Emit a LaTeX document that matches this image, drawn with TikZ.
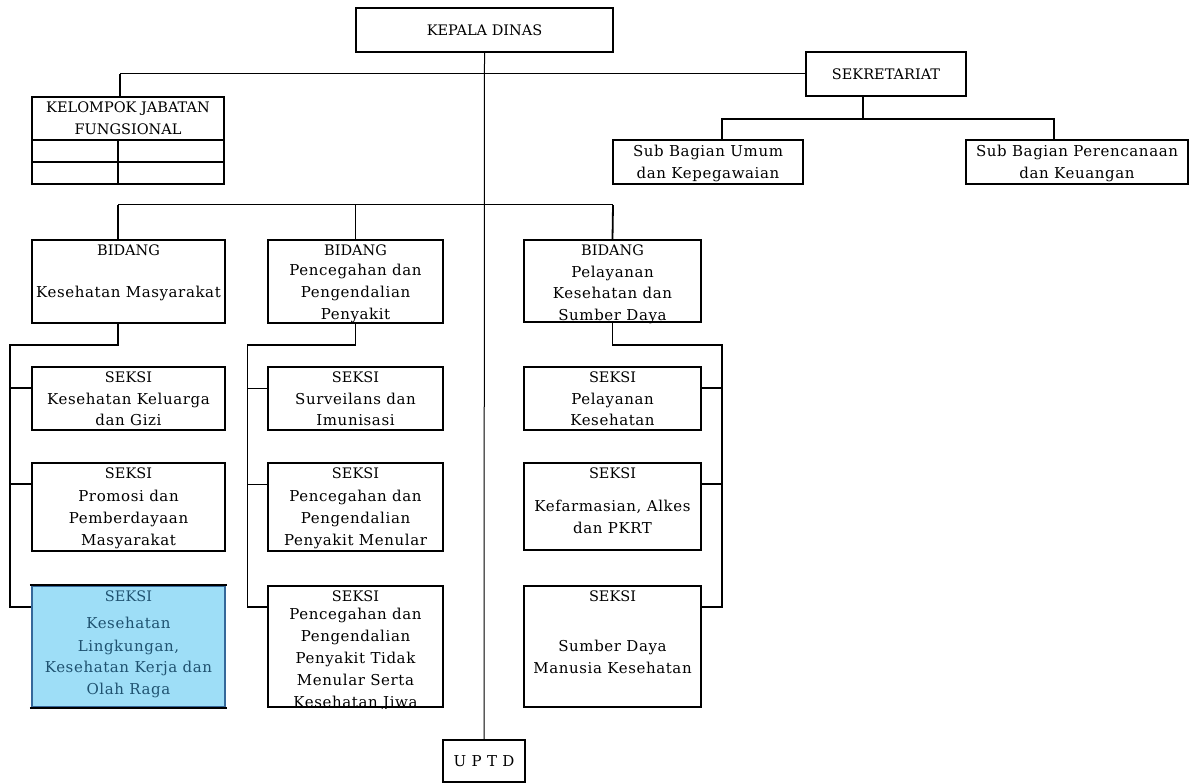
\documentclass[tikz,border=0pt]{standalone}
\usepackage{fontspec}
\setmainfont{DejaVu Serif}
\newfontfamily\lsfont[LetterSpace=4]{DejaVu Serif}
\newcommand\capsf{\fontsize{14.5}{21.5}\selectfont\rmfamily}
\newcommand\bodyf{\fontsize{15}{21.5}\selectfont\lsfont}
\definecolor{blfill}{HTML}{9EDEF7}
\definecolor{blborder}{HTML}{35689A}
\definecolor{bltext}{HTML}{1F5270}
\tikzset{
  box/.style={draw=black, line width=2pt, inner sep=0pt, fill=white},
  txt/.style={anchor=north, align=center, inner sep=0pt, font=\bodyf},
  conn/.style={line width=1.8pt},
  thinc/.style={line width=1pt},
}
% name, x1, y1, x2, y2, content
\newcommand\orgbox[7][]{%
  \node[box, minimum width={(#5-#3)*1pt}, minimum height={(#6-#4)*1pt}, #1] (#2) at ({(#3+#5)/2},{(#4+#6)/2}) {#7};}
\newcommand\boxtext[3][]{%
  \begin{scope}
    \clip (#2.south west) rectangle (#2.north east);
    \node[txt, #1] (#2-t) at ([yshift=-5.7pt]#2.north) {#3};
  \end{scope}}
\begin{document}
\begin{tikzpicture}[x=1pt, y=-1pt]
\useasboundingbox (0,0) rectangle (1190,783);

% boxes
\orgbox{kd}{356}{8}{613}{52}{\capsf KEPALA DINAS}
\orgbox{sek}{806}{52}{966}{96}{\capsf SEKRETARIAT}
\orgbox{kjf}{32}{97}{224}{184}{}
\orgbox{sbu}{613}{140}{803}{184}{}
\orgbox{sbp}{966}{140}{1188}{184}{}
\orgbox{kmb}{32}{240}{225}{323}{}
\orgbox{p2pb}{268}{240}{443}{323}{}
\orgbox{pelb}{524}{240}{701}{322}{}
\orgbox{km1}{32}{367}{225}{430}{}
\orgbox{km2}{32}{463}{225}{551}{}
\orgbox[fill=blfill, draw=blborder, line width=2.2pt]{km3}{32}{586}{225}{707}{}
\orgbox{pp1}{268}{367}{443}{430}{}
\orgbox{pp2}{268}{463}{443}{551}{}
\orgbox{pp3}{268}{586}{443}{707}{}
\orgbox{pl1}{524}{367}{701}{430}{}
\orgbox{pl2}{524}{463}{701}{550}{}
\orgbox{pl3}{524}{586}{701}{707}{}
\orgbox{uptd}{443}{740}{525}{782}{\bodyf U P T D}

% blue box black top and bottom edges
\draw[line width=2pt] ([xshift=-1pt]km3.north west) -- ([xshift=1pt]km3.north east);
\draw[line width=2pt] ([xshift=-1pt]km3.south west) -- ([xshift=1pt]km3.south east);

% KJF inner grid
\draw[line width=2pt] ([yshift=-44pt]kjf.north west) -- ([yshift=-44pt]kjf.north east);
\draw[line width=2pt] ([yshift=-66pt]kjf.north west) -- ([yshift=-66pt]kjf.north east);
\draw[line width=2pt] ([xshift=87pt,yshift=-44pt]kjf.north west) -- ([xshift=87pt]kjf.south west);

% texts
\boxtext{kjf}{{\capsf KELOMPOK JABATAN}\\{\capsf FUNGSIONAL}}
\boxtext{sbu}{Sub Bagian Umum\\[0.5pt]dan Kepegawaian}
\boxtext{sbp}{Sub Bagian Perencanaan\\[0.5pt]dan Keuangan}
\boxtext{kmb}{{\capsf BIDANG}\\[20.5pt]Kesehatan Masyarakat}
\boxtext{p2pb}{{\capsf BIDANG}\\[-1.5pt]Pencegahan dan\\[0.5pt]Pengendalian\\[0.5pt]Penyakit}
\boxtext{pelb}{{\capsf BIDANG}\\Pelayanan\\Kesehatan dan\\Sumber Daya}
\boxtext{km1}{{\capsf SEKSI}\\Kesehatan Keluarga\\dan Gizi}
\boxtext{km2}{{\capsf SEKSI}\\[1.5pt]Promosi dan\\[0.5pt]Pemberdayaan\\[0.5pt]Masyarakat}
\boxtext[text=bltext]{km3}{{\capsf SEKSI}\\[5.5pt]Kesehatan\\[1pt]Lingkungan,\\Kesehatan Kerja dan\\[0.5pt]Olah Raga}
\boxtext{pp1}{{\capsf SEKSI}\\Surveilans dan\\Imunisasi}
\boxtext{pp2}{{\capsf SEKSI}\\[1.5pt]Pencegahan dan\\[0.5pt]Pengendalian\\[0.5pt]Penyakit Menular}
\boxtext{pp3}{{\capsf SEKSI}\\[-3.5pt]Pencegahan dan\\[0.5pt]Pengendalian\\Penyakit Tidak\\[0.5pt]Menular Serta\\[0.5pt]Kesehatan Jiwa}
\boxtext{pl1}{{\capsf SEKSI}\\Pelayanan\\Kesehatan}
\boxtext{pl2}{{\capsf SEKSI}\\[11.5pt]Kefarmasian, Alkes\\[0.5pt]dan PKRT}
\boxtext{pl3}{{\capsf SEKSI}\\[28.5pt]Sumber Daya\\Manusia Kesehatan}

% helper coordinates
\coordinate (topbus) at (120,74);
\coordinate (sekdrop) at (863,119);
\coordinate (sbuin) at (722,119);
\coordinate (sbpin) at (1054,119);
\coordinate (busL) at (118,205);
\coordinate (busR) at (613,205);
\coordinate (kmL) at (10,345);
\coordinate (ppL) at (247,345);
\coordinate (plR) at (722,345);
\coordinate (r1) at (0,388);
\coordinate (r2) at (0,484);
\coordinate (r3) at (0,607);

% trunk
\draw[thinc] (kd.south) -- (uptd.north);
% top bus to KJF and SEKRETARIAT
\draw[thinc] (sek.west |- topbus) -- (topbus);
\draw[conn] (topbus) -- (topbus |- kjf.north);
% sekretariat
\draw[conn] (sekdrop |- sek.south) -- (sekdrop);
\draw[conn] (sbuin |- sbu.north) -- (sbuin) -- (sbpin) -- (sbpin |- sbp.north);
% bidang bus
\draw[thinc] (busL) -- (busR);
\draw[conn] (busL) -- (busL |- kmb.north);
\draw[conn] (p2pb.north) -- (p2pb.north |- busL);
\draw[conn] (busR) -- (pelb.north);
% kesehatan masyarakat column
\draw[conn] (busL |- kmb.south) -- (busL |- kmL) -- (kmL) -- (kmL |- r3) -- (km3.west |- r3);
\draw[conn] (kmL |- r1) -- (km1.west |- r1);
\draw[conn] (kmL |- r2) -- (km2.west |- r2);
% P2P column
\draw[conn] (p2pb.south) -- (p2pb.south |- ppL) -- (ppL);
\draw[thinc] (ppL) -- (ppL |- r3);
\draw[conn] (ppL |- r3) -- (pp3.west |- r3);
\draw[thinc] (ppL |- r1) -- (pp1.west |- r1);
\draw[thinc] (ppL |- r2) -- (pp2.west |- r2);
% pelayanan column
\draw[conn] (pelb.south) -- (pelb.south |- plR) -- (plR) -- (plR |- r3) -- (pl3.east |- r3);
\draw[conn] (plR |- r1) -- (pl1.east |- r1);
\draw[conn] (plR |- r2) -- (pl2.east |- r2);
\end{tikzpicture}
\end{document}
